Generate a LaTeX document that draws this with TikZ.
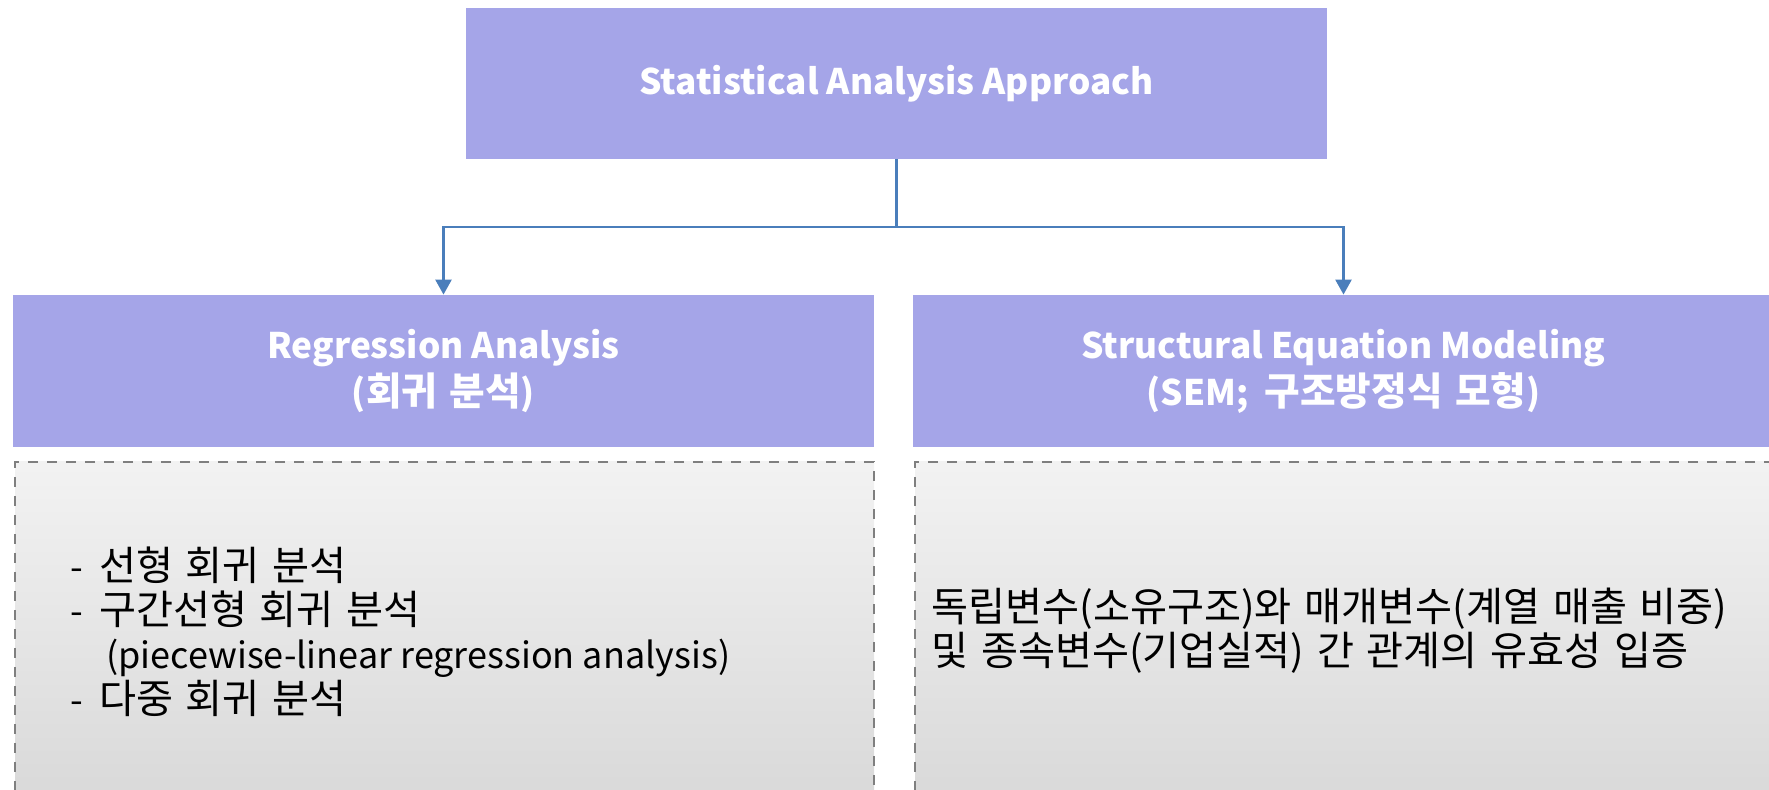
\documentclass[tikz,border=0pt]{standalone}
\usepackage{fontspec}
\setmainfont{Noto Sans CJK KR}
\newfontfamily\krfont{Noto Sans CJK KR}[Scale=1.1, WordSpace=1.4]
\newcommand{\kr}[1]{{\krfont #1}}
\usetikzlibrary{positioning, shapes, arrows.meta, calc}
\definecolor{headfill}{HTML}{A5A5E8}
\definecolor{linkblue}{HTML}{4A7EBB}
\definecolor{dashgray}{HTML}{7F7F7F}

\begin{document}
\begin{tikzpicture}[x=0.5pt, y=-0.5pt,
    head/.style={rectangle, fill=headfill, text=white, inner sep=0pt,
      font=\fontsize{17.6}{23.5}\selectfont\bfseries, align=center,
      minimum width=430.5pt, minimum height=76pt},
    detail/.style={rectangle, draw=dashgray, line width=1.3pt, dash pattern=on 5pt off 4.5pt,
      top color=black!5, bottom color=black!15, inner sep=0pt,
      minimum width=429.5pt, minimum height=169pt},
    body/.style={font=\fontsize{18.3}{22.2}\selectfont, align=left, inner sep=0pt, anchor=west},
    link/.style={draw=linkblue, line width=1.25pt, -{Triangle[width=8pt,length=7.5pt]}}]
  \useasboundingbox (0,0) rectangle (1769,790);
  \clip (0,0) rectangle (1769,790);

  % Boxes
  \node[head, minimum height=75.5pt] (approach) at (896.5,83.5) {Statistical Analysis Approach};
  \node[head] (regression) at (443.5,371) {Regression Analysis\\(\kr{회귀 분석})};
  \node[head] (sem) at (1343.5,371) {Structural Equation Modeling\\(SEM;\hspace{4pt} \kr{구조방정식 모형})};
  \node[detail] (regbox) at (444.5,631) {};
  \node[detail] (sembox) at (1344.5,631) {};

  % Texts
  \node[body] (reglist) at (70,631.5) {-\hspace{8pt}\kr{선형 회귀 분석}\\-\hspace{8pt}\kr{구간선형 회귀 분석}\\\hspace*{18pt}{\fontsize{18}{22.2}\selectfont(piecewise-linear regression analysis)}\\-\hspace{8pt}\kr{다중 회귀 분석}};
  \node[body] (semtext) at (931,630.5) {\kr{독립변수(소유구조)와 매개변수(계열 매출 비중)}\\\kr{및 종속변수(기업실적) 간 관계의 유효성 입증}};

  % Arrows
  \coordinate (split) at (896.5,227);
  \draw[link, -] (approach.south) -- (split);
  \foreach \n in {regression, sem}
    \draw[link] (split) -| (\n.north);
\end{tikzpicture}
\end{document}
